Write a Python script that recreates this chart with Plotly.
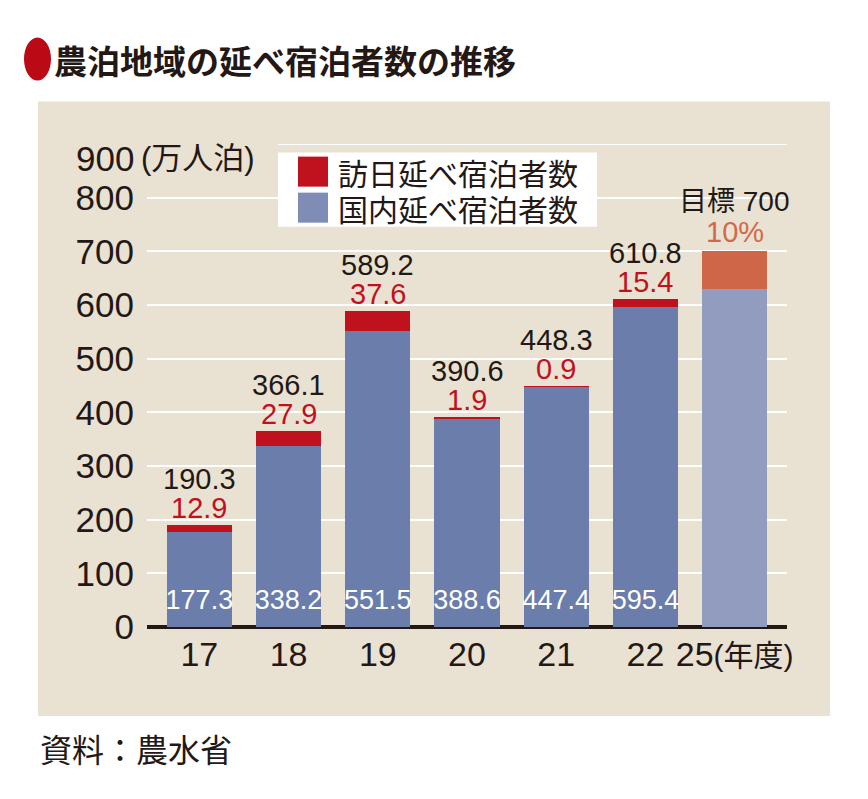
import plotly.graph_objects as go

# ---- data ----
years = ["17", "18", "19", "20", "21", "22"]
target_year = "25"
domestic = [177.3, 338.2, 551.5, 388.6, 447.4, 595.4]
inbound = [12.9, 27.9, 37.6, 1.9, 0.9, 15.4]
totals = [190.3, 366.1, 589.2, 390.6, 448.3, 610.8]
target_total = 700
target_domestic = 630
target_inbound = 70
target_share_label = "10%"
target_label = "目標 700"
x_ticktext = ["17", "18", "19", "20", "21", "22", "25<span style='font-size:30px'>(年度)</span>"]
y_tickvals = [0, 100, 200, 300, 400, 500, 600, 700, 800]
y_top = 900

# ---- styles ----
INK = "#231815"
BLUE = "#6a7dab"
RED = "#c0111f"
LBLUE = "#919cbf"
ORANGE = "#cf6647"
BEIGE = "#e9e2d2"
NUM = "Liberation Sans, Arial, sans-serif"
CJK = "Noto Sans CJK JP, sans-serif"
MIX = "Liberation Sans, Noto Sans CJK JP, sans-serif"

# page body has an 8px margin; target screen coordinates are compensated
OFF = 8
W, H = 868, 799
PL, PR, PT, PB = 147, 787, 144.4, 627      # plot area in screen px
L, R, T, B = PL - OFF, W - PR + OFF, PT - OFF, H - PB + OFF
PW = PR - PL
PH = PB - PT


def px(xp):
    return (xp - PL) / PW


def py(yp):
    return (PB - yp) / PH


cats = years + [target_year]

fig = go.Figure()
fig.add_bar(x=years, y=domestic, marker=dict(color=BLUE, line_width=0), name="国内延べ宿泊者数")
fig.add_bar(x=years, y=inbound, marker=dict(color=RED, line_width=0), name="訪日延べ宿泊者数")
fig.add_bar(x=[target_year], y=[target_domestic], marker=dict(color=LBLUE, line_width=0))
fig.add_bar(x=[target_year], y=[target_inbound], marker=dict(color=ORANGE, line_width=0))

# inner labels (domestic values)
fig.add_scatter(x=years, y=[46] * len(years), mode="text",
                text=[f"{v:.1f}" for v in domestic],
                textposition="middle center",
                textfont=dict(family=NUM, size=27, color="white"),
                hoverinfo="skip")

annotations = []
for i, (tot, inb) in enumerate(zip(totals, inbound)):
    annotations.append(dict(x=i, y=tot, xref="x", yref="y", text=f"{tot:.1f}",
                            showarrow=False, yanchor="middle", yshift=46, height=28,
                            font=dict(family=NUM, size=29, color=INK)))
    annotations.append(dict(x=i, y=tot, xref="x", yref="y", text=f"{inb:.1f}",
                            showarrow=False, yanchor="middle", yshift=17, height=28,
                            font=dict(family=NUM, size=29, color=RED)))
ti = cats.index(target_year)
annotations.append(dict(x=ti, y=target_total, xref="x", yref="y", text=target_label,
                        showarrow=False, yanchor="middle", yshift=50, height=30,
                        font=dict(family=MIX, size=28, color=INK)))
annotations.append(dict(x=ti, y=target_total, xref="x", yref="y", text=target_share_label,
                        showarrow=False, yanchor="middle", yshift=19, height=28,
                        font=dict(family=NUM, size=29, color="#d2694b")))

# y unit label
annotations.append(dict(x=px(136), y=py(159), xref="paper", yref="paper", text=str(y_top),
                        showarrow=False, xanchor="right", yanchor="middle",
                        font=dict(family=NUM, size=35, color=INK)))
annotations.append(dict(x=px(139), y=py(159), xref="paper", yref="paper", text="(万人泊)",
                        showarrow=False, xanchor="left", yanchor="middle",
                        font=dict(family=MIX, size=31, color=INK)))
# legend texts
annotations.append(dict(x=px(336), y=py(172), xref="paper", yref="paper", text="訪日延べ宿泊者数",
                        showarrow=False, xanchor="left", yanchor="middle", height=34,
                        font=dict(family=CJK, size=30, color=INK)))
annotations.append(dict(x=px(336), y=py(208), xref="paper", yref="paper", text="国内延べ宿泊者数",
                        showarrow=False, xanchor="left", yanchor="middle", height=34,
                        font=dict(family=CJK, size=30, color=INK)))
# title
annotations.append(dict(x=px(52), y=py(60), xref="paper", yref="paper", text="農泊地域の延べ宿泊者数の推移",
                        showarrow=False, xanchor="left", yanchor="middle",
                        font=dict(family=CJK, size=33, color=INK, weight="bold")))
# source
annotations.append(dict(x=px(38), y=py(748), xref="paper", yref="paper", text="資料：農水省",
                        showarrow=False, xanchor="left", yanchor="middle",
                        font=dict(family=CJK, size=32, color=INK)))

shapes = [
    dict(type="rect", xref="paper", yref="paper", x0=px(38), x1=px(830), y0=py(716), y1=py(102),
         fillcolor=BEIGE, line_width=0, layer="below"),
    dict(type="line", xref="paper", yref="y", x0=px(278), x1=1, y0=y_top, y1=y_top,
         line=dict(color="white", width=2), layer="below"),
    dict(type="rect", xref="paper", yref="paper", x0=px(278), x1=px(597), y0=py(227), y1=py(153),
         fillcolor="white", line_width=0, layer="above"),
    dict(type="rect", xref="paper", yref="paper", x0=px(298), x1=px(328), y0=py(187), y1=py(157),
         fillcolor=RED, line_width=0, layer="above"),
    dict(type="rect", xref="paper", yref="paper", x0=px(298), x1=px(328), y0=py(223), y1=py(193),
         fillcolor="#7f8cb5", line_width=0, layer="above"),
    dict(type="circle", xref="paper", yref="paper", x0=px(24), x1=px(51), y0=py(81), y1=py(38),
         fillcolor="#bb0a16", line_width=0, layer="above"),
]

fig.update_layout(
    width=W, height=H,
    margin=dict(l=L, r=R, t=T, b=B, pad=0),
    paper_bgcolor="white", plot_bgcolor="rgba(0,0,0,0)",
    barmode="stack", bargap=0.27, showlegend=False,
    xaxis=dict(type="category", categoryorder="array", categoryarray=cats,
               range=[-0.587, 6.587], tickvals=cats, ticktext=x_ticktext,
               tickfont=dict(family=MIX, size=34, color=INK),
               showgrid=False, showline=False, zeroline=False, ticks="",
               ticklabelstandoff=4, fixedrange=True, automargin=False),
    yaxis=dict(range=[0, y_top], tickvals=y_tickvals,
               tickfont=dict(family=NUM, size=35, color=INK),
               showgrid=True, gridcolor="white", gridwidth=2,
               zeroline=True, zerolinecolor=INK, zerolinewidth=3.5,
               showline=False, ticks="", ticklabelstandoff=12, fixedrange=True,
               automargin=False),
    annotations=annotations, shapes=shapes,
)

fig.write_html("out.html")
